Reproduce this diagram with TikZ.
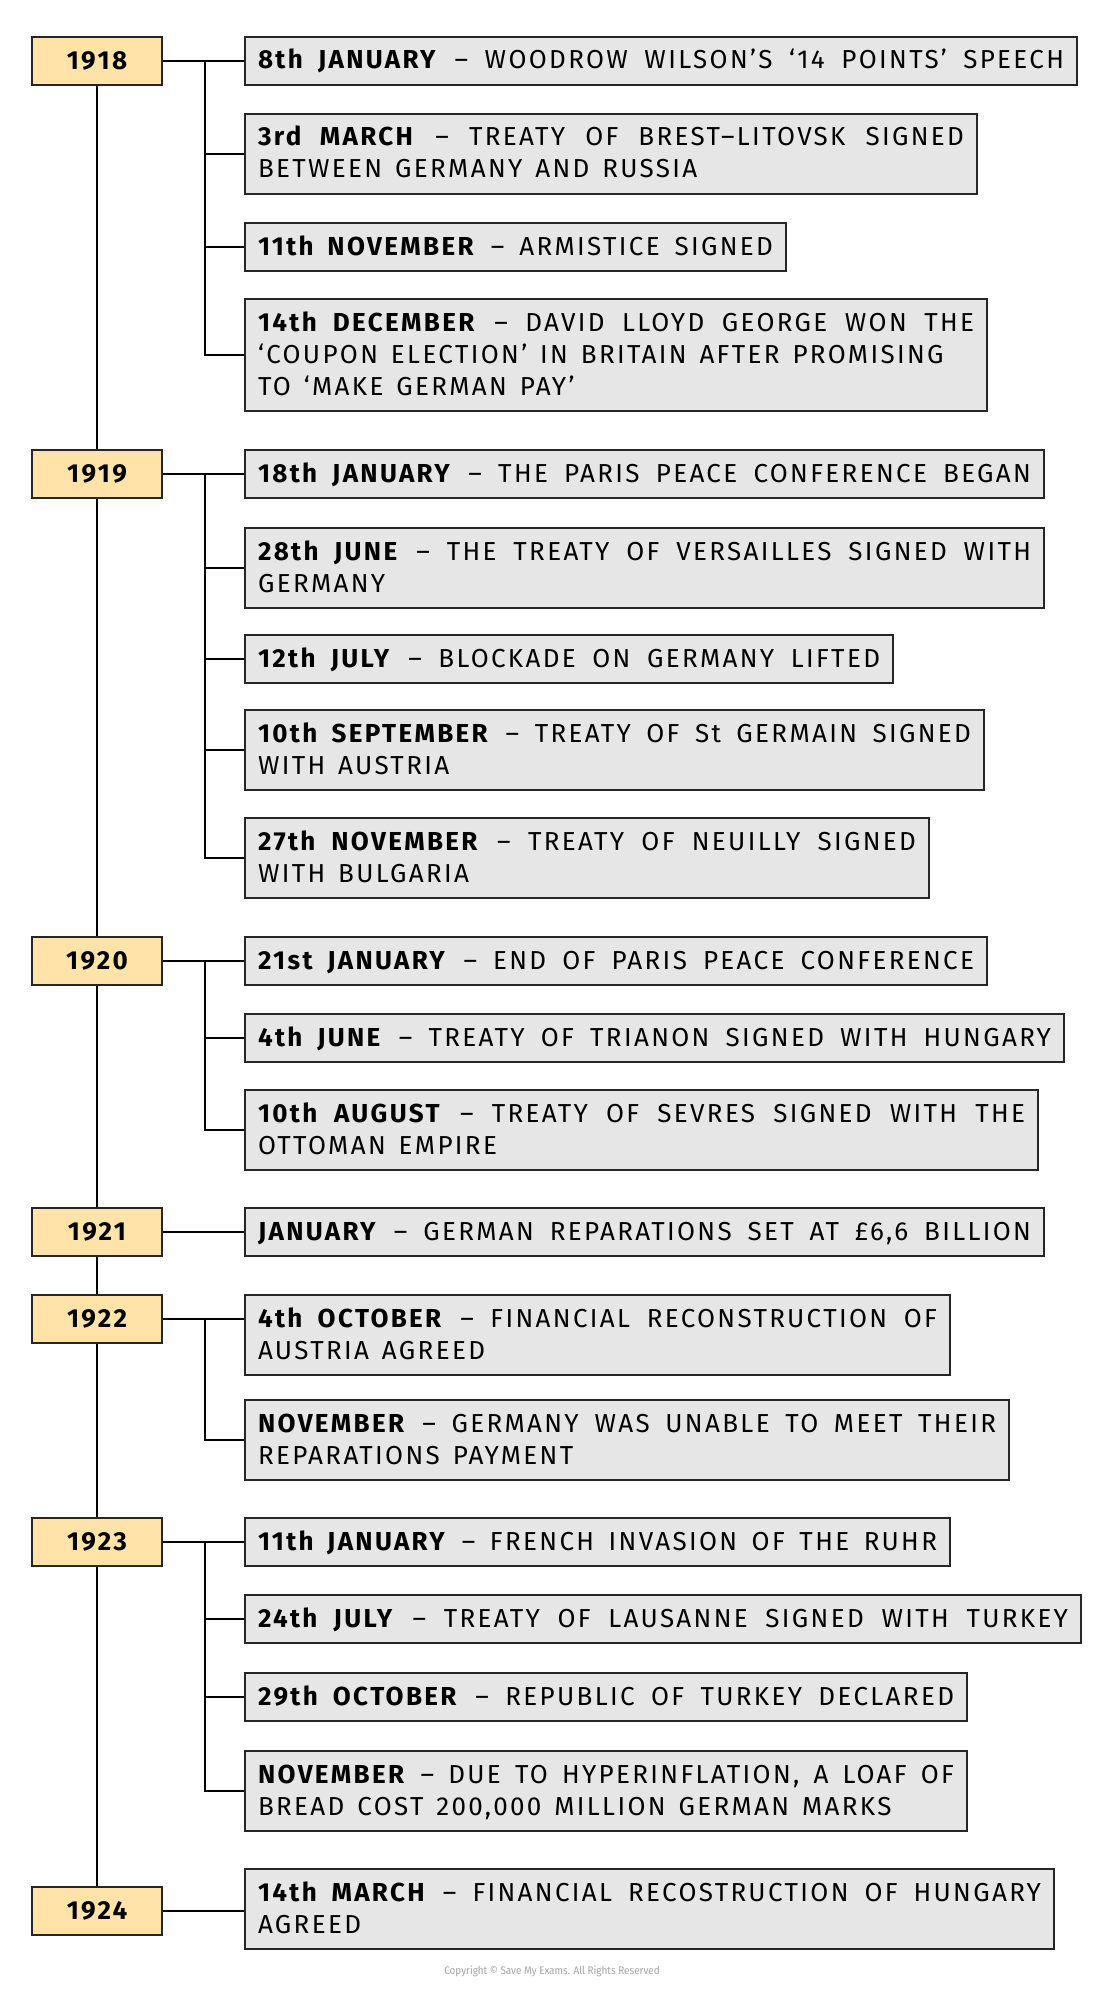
\documentclass[tikz,border=0pt]{standalone}
\usepackage{fontspec}
\setmainfont{Fira Sans}[LetterSpace=9,WordSpace=1.4]
\newfontfamily\notefont{Fira Sans Condensed}
\definecolor{yearfill}{HTML}{FFE3A8}
\definecolor{eventfill}{HTML}{E6E6E6}
\definecolor{edge}{HTML}{262626}
\newcommand{\evstrut}{\rule[-4pt]{0pt}{16pt}}
\tolerance=10000

\begin{document}
\begin{tikzpicture}[x=0.5pt,y=-0.5pt]
	\tikzset{year/.style={draw=edge,line width=1pt,fill=yearfill,anchor=north west,minimum width=65pt,minimum height=24pt,inner sep=0pt,font=\bfseries\fontsize{13}{16}\selectfont}}
	\tikzset{event/.style={draw=edge,line width=1pt,fill=eventfill,anchor=north west,inner xsep=6.5pt,inner ysep=4pt,align=justify,font=\fontsize{13}{16}\selectfont,execute at begin node=\evstrut,execute at end node=\evstrut}}
	\tikzset{oneline/.style={execute at begin node={\parfillskip=0pt\evstrut}}}
	\tikzset{link/.style={draw=black,line width=0.75pt}}
	\useasboundingbox (0,0) rectangle (1100,1991);
	% 1918
	\node[year] (y18) at (31,36) {1918};
	\node[event,oneline,text width=403pt] (e18a) at (244,36) {\textbf{8th JANUARY} – WOODROW WILSON’S ‘14 POINTS’ SPEECH};
	\node[event,text width=353pt] (e18b) at (244,113) {\textbf{3rd MARCH} – TREATY OF BREST–LITOVSK SIGNED\linebreak BETWEEN GERMANY AND RUSSIA};
	\node[event,oneline,text width=257.5pt] (e18c) at (244,222) {\textbf{11th NOVEMBER} – ARMISTICE SIGNED};
	\node[event,text width=358pt] (e18d) at (244,298) {\textbf{14th DECEMBER} – DAVID LLOYD GEORGE WON THE\linebreak ‘COUPON ELECTION’ IN BRITAIN AFTER PROMISING\\ TO ‘MAKE GERMAN PAY’};
	% 1919
	\node[year] (y19) at (31,449) {1919};
	\node[event,oneline,text width=386.5pt] (e19a) at (244,449) {\textbf{18th JANUARY} – THE PARIS PEACE CONFERENCE BEGAN};
	\node[event,text width=386.5pt] (e19b) at (244,527) {\textbf{28th JUNE} – THE TREATY OF VERSAILLES SIGNED WITH\linebreak GERMANY};
	\node[event,oneline,text width=311pt] (e19c) at (244,634) {\textbf{12th JULY} – BLOCKADE ON GERMANY LIFTED};
	\node[event,text width=356.5pt] (e19d) at (244,709) {\textbf{10th SEPTEMBER} – TREATY OF St GERMAIN SIGNED\linebreak WITH AUSTRIA};
	\node[event,text width=329pt] (e19e) at (244,817) {\textbf{27th NOVEMBER} – TREATY OF NEUILLY SIGNED\linebreak WITH BULGARIA};
	% 1920
	\node[year] (y20) at (31,936) {1920};
	\node[event,oneline,text width=358pt] (e20a) at (244,936) {\textbf{21st JANUARY} – END OF PARIS PEACE CONFERENCE};
	\node[event,oneline,text width=396.5pt] (e20b) at (244,1013) {\textbf{4th JUNE} – TREATY OF TRIANON SIGNED WITH HUNGARY};
	\node[event,text width=383.5pt] (e20c) at (244,1089) {\textbf{10th AUGUST} – TREATY OF SEVRES SIGNED WITH THE\linebreak OTTOMAN EMPIRE};
	% 1921
	\node[year] (y21) at (31,1207) {1921};
	\node[event,oneline,text width=386.5pt] (e21a) at (244,1207) {\textbf{JANUARY} – GERMAN REPARATIONS SET AT £6,6 BILLION};
	% 1922
	\node[year] (y22) at (31,1294) {1922};
	\node[event,text width=339.5pt] (e22a) at (244,1294) {\textbf{4th OCTOBER} – FINANCIAL RECONSTRUCTION OF\linebreak AUSTRIA AGREED};
	\node[event,text width=369pt] (e22b) at (244,1399) {\textbf{NOVEMBER} – GERMANY WAS UNABLE TO MEET THEIR\linebreak REPARATIONS PAYMENT};
	% 1923
	\node[year] (y23) at (31,1517) {1923};
	\node[event,oneline,text width=339.5pt] (e23a) at (244,1517) {\textbf{11th JANUARY} – FRENCH INVASION OF THE RUHR};
	\node[event,oneline,text width=405pt] (e23b) at (244,1594) {\textbf{24th JULY} – TREATY OF LAUSANNE SIGNED WITH TURKEY};
	\node[event,oneline,text width=348pt] (e23c) at (244,1672) {\textbf{29th OCTOBER} – REPUBLIC OF TURKEY DECLARED};
	\node[event,text width=348pt] (e23d) at (244,1750) {\textbf{NOVEMBER} – DUE TO HYPERINFLATION, A LOAF OF\linebreak BREAD COST 200,000 MILLION GERMAN MARKS};
	% 1924
	\node[year] (y24) at (31,1886) {1924};
	\node[event,text width=391.5pt] (e24a) at (244,1868) {\textbf{14th MARCH} – FINANCIAL RECOSTRUCTION OF HUNGARY\linebreak AGREED};
	% timeline
	\foreach \a/\b in {18/19,19/20,20/21,21/22,22/23,23/24}
		\draw[link] (y\a.south) -- (y\b.north);
	% branches
	\foreach \y in {18,19,20,21,22,23,24}
		\draw[link] (y\y.east) -- (y\y.east -| e\y a.west);
	\foreach \e in {b,c,d}
		\draw[link] ([xshift=21pt]y18.east) |- (e18\e.west);
	\foreach \e in {b,c,d,e}
		\draw[link] ([xshift=21pt]y19.east) |- (e19\e.west);
	\foreach \e in {b,c}
		\draw[link] ([xshift=21pt]y20.east) |- (e20\e.west);
	\draw[link] ([xshift=21pt]y22.east) |- (e22b.west);
	\foreach \e in {b,c,d}
		\draw[link] ([xshift=21pt]y23.east) |- (e23\e.west);
	\node[text=gray!70,font=\notefont\fontsize{5.5}{6}\selectfont] (copy) at (552,1971) {Copyright © Save My Exams. All Rights Reserved};
\end{tikzpicture}
\end{document}
